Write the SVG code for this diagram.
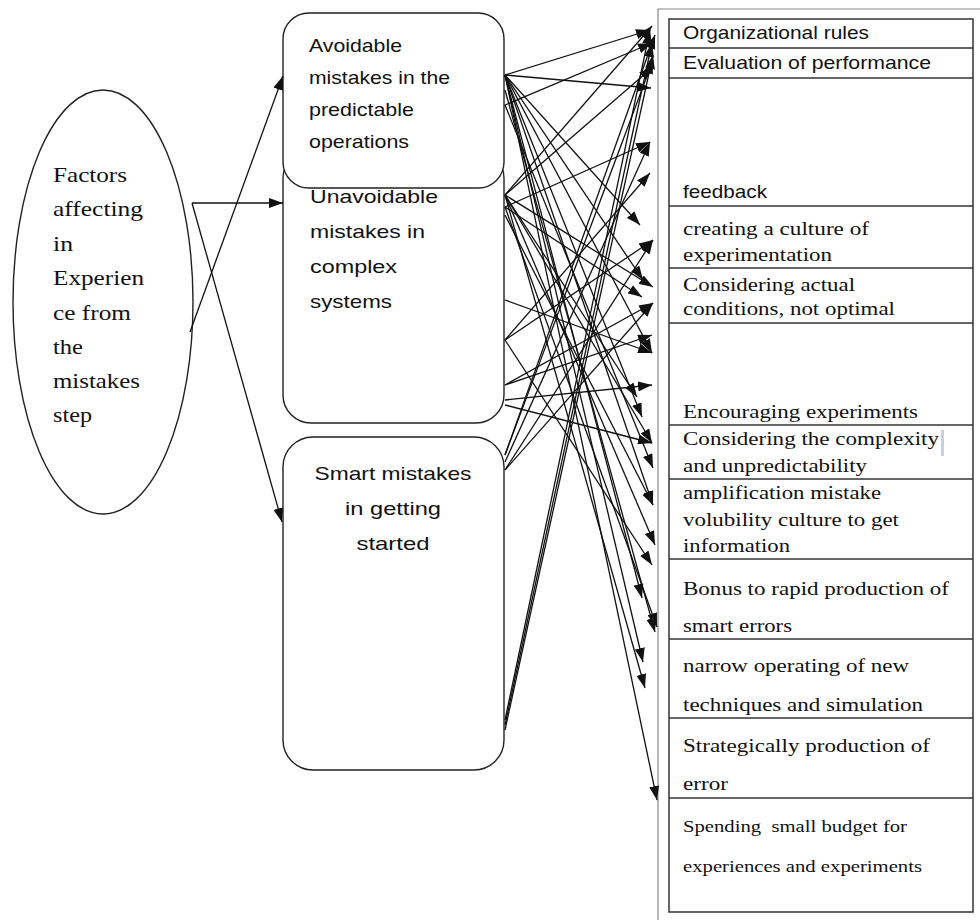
<svg xmlns="http://www.w3.org/2000/svg" width="980" height="920" viewBox="0 0 980 920">
<style>
  .bg{fill:#fff}
  .shape{fill:#fff;stroke:#222;stroke-width:1.4}
  .serif{font-family:"Liberation Serif","Times New Roman",serif;fill:#111}
  .sans{font-family:"Liberation Sans",Arial,sans-serif;fill:#111}
  .conn line,.conn path{stroke:#111;stroke-width:1.3;fill:none;marker-end:url(#ah)}
  .outer{fill:none;stroke:#888;stroke-width:1.2}
  .table{fill:none;stroke:#333;stroke-width:1.5}
  .row{stroke:#333;stroke-width:1.5}
</style>
<defs>
  <marker id="ah" markerWidth="14" markerHeight="10" refX="14" refY="5" orient="auto" markerUnits="userSpaceOnUse">
    <path d="M0,0 L14,5 L0,10 z" fill="#111"/>
  </marker>
</defs>
<rect class="bg" x="0" y="0" width="980" height="920"/>

<g id="factors">
  <ellipse class="shape" cx="103" cy="302" rx="90" ry="212"/>
  <g class="serif" font-size="22">
    <text x="53" y="182" textLength="74" lengthAdjust="spacingAndGlyphs">Factors</text>
    <text x="53" y="216" textLength="90" lengthAdjust="spacingAndGlyphs">affecting</text>
    <text x="53" y="251" textLength="20" lengthAdjust="spacingAndGlyphs">in</text>
    <text x="53" y="285" textLength="91" lengthAdjust="spacingAndGlyphs">Experien</text>
    <text x="53" y="320" textLength="78" lengthAdjust="spacingAndGlyphs">ce from</text>
    <text x="53" y="354" textLength="30" lengthAdjust="spacingAndGlyphs">the</text>
    <text x="53" y="388" textLength="87" lengthAdjust="spacingAndGlyphs">mistakes</text>
    <text x="53" y="422" textLength="39" lengthAdjust="spacingAndGlyphs">step</text>
  </g>
</g>

<g id="unavoidable">
  <rect class="shape" x="283" y="150" width="221" height="273" rx="28"/>
  <g class="sans" font-size="19">
    <text x="310" y="203" textLength="128" lengthAdjust="spacingAndGlyphs">Unavoidable</text>
    <text x="310" y="238" textLength="115" lengthAdjust="spacingAndGlyphs">mistakes in</text>
    <text x="310" y="273" textLength="87" lengthAdjust="spacingAndGlyphs">complex</text>
    <text x="310" y="308" textLength="82" lengthAdjust="spacingAndGlyphs">systems</text>
  </g>
</g>

<g id="avoidable">
  <rect class="shape" x="283" y="13" width="221" height="175" rx="26"/>
  <g class="sans" font-size="19">
    <text x="309" y="52" textLength="93" lengthAdjust="spacingAndGlyphs">Avoidable</text>
    <text x="309" y="84" textLength="141" lengthAdjust="spacingAndGlyphs">mistakes in the</text>
    <text x="309" y="116" textLength="105" lengthAdjust="spacingAndGlyphs">predictable</text>
    <text x="309" y="148" textLength="100" lengthAdjust="spacingAndGlyphs">operations</text>
  </g>
</g>

<g id="smart">
  <rect class="shape" x="283" y="437" width="221" height="333" rx="30"/>
  <g class="sans" font-size="19" text-anchor="middle">
    <text x="393" y="480" textLength="157" lengthAdjust="spacingAndGlyphs">Smart mistakes</text>
    <text x="393" y="515" textLength="96" lengthAdjust="spacingAndGlyphs">in getting</text>
    <text x="393" y="550" textLength="73" lengthAdjust="spacingAndGlyphs">started</text>
  </g>
</g>

<g id="outcomes">
  <path class="outer" d="M658,920 V9 H980"/>
  <rect class="table" x="669" y="19" width="304" height="893"/>
  <g class="row">
    <line x1="669" y1="48" x2="973" y2="48"/>
    <line x1="669" y1="78" x2="973" y2="78"/>
    <line x1="669" y1="206" x2="973" y2="206"/>
    <line x1="669" y1="268" x2="973" y2="268"/>
    <line x1="669" y1="323" x2="973" y2="323"/>
    <line x1="669" y1="425" x2="973" y2="425"/>
    <line x1="669" y1="479" x2="973" y2="479"/>
    <line x1="669" y1="559" x2="973" y2="559"/>
    <line x1="669" y1="639" x2="973" y2="639"/>
    <line x1="669" y1="718" x2="973" y2="718"/>
    <line x1="669" y1="798" x2="973" y2="798"/>
  </g>
  <g class="sans" font-size="19">
    <text x="683" y="39" textLength="186" lengthAdjust="spacingAndGlyphs">Organizational rules</text>
    <text x="683" y="69" textLength="248" lengthAdjust="spacingAndGlyphs">Evaluation of performance</text>
    <text x="683" y="198" textLength="84" lengthAdjust="spacingAndGlyphs">feedback</text>
  </g>
  <g class="serif" font-size="19">
    <text x="683" y="235" textLength="186" lengthAdjust="spacingAndGlyphs">creating a culture of</text>
    <text x="683" y="261" textLength="149" lengthAdjust="spacingAndGlyphs">experimentation</text>
    <text x="683" y="291" textLength="172" lengthAdjust="spacingAndGlyphs">Considering actual</text>
    <text x="683" y="315" textLength="212" lengthAdjust="spacingAndGlyphs">conditions, not optimal</text>
    <text x="683" y="418" textLength="235" lengthAdjust="spacingAndGlyphs">Encouraging experiments</text>
    <text x="683" y="445" textLength="256" lengthAdjust="spacingAndGlyphs">Considering the complexity</text>
    <text x="683" y="472" textLength="184" lengthAdjust="spacingAndGlyphs">and unpredictability</text>
    <text x="683" y="499" textLength="198" lengthAdjust="spacingAndGlyphs">amplification mistake</text>
    <text x="683" y="526" textLength="216" lengthAdjust="spacingAndGlyphs">volubility culture to get</text>
    <text x="683" y="552" textLength="107" lengthAdjust="spacingAndGlyphs">information</text>
    <text x="683" y="595" textLength="266" lengthAdjust="spacingAndGlyphs">Bonus to rapid production of</text>
    <text x="683" y="632" textLength="109" lengthAdjust="spacingAndGlyphs">smart errors</text>
    <text x="683" y="672" textLength="226" lengthAdjust="spacingAndGlyphs">narrow operating of new</text>
    <text x="683" y="711" textLength="240" lengthAdjust="spacingAndGlyphs">techniques and simulation</text>
    <text x="683" y="752" textLength="247" lengthAdjust="spacingAndGlyphs">Strategically production of</text>
    <text x="683" y="790" textLength="45" lengthAdjust="spacingAndGlyphs">error</text>
  </g>
  <g class="serif" font-size="16">
    <text x="683" y="832" textLength="224" lengthAdjust="spacingAndGlyphs" xml:space="preserve">Spending  small budget for</text>
    <text x="683" y="872" textLength="239" lengthAdjust="spacingAndGlyphs">experiences and experiments</text>
  </g>
  <rect x="941" y="430" width="3" height="26" fill="#c5d0e6"/>
</g>

<g id="connectors" class="conn">
  <line x1="192" y1="203" x2="283" y2="203"/>
  <line x1="192" y1="203" x2="282" y2="522"/>
  <line x1="190" y1="332" x2="283" y2="76"/>

  <line x1="505" y1="75" x2="650" y2="30"/>
  <line x1="505" y1="75" x2="651" y2="88"/>
  <line x1="505" y1="75" x2="640" y2="225"/>
  <line x1="505" y1="75" x2="643" y2="280"/>
  <line x1="505" y1="75" x2="652" y2="353"/>
  <line x1="505" y1="75" x2="642" y2="417"/>
  <line x1="505" y1="75" x2="653" y2="505"/>
  <line x1="505" y1="75" x2="642" y2="598"/>
  <line x1="505" y1="75" x2="643" y2="662"/>
  <line x1="505" y1="75" x2="657" y2="800"/>
  <line x1="505" y1="105" x2="652" y2="43"/>
  <line x1="505" y1="105" x2="653" y2="468"/>
  <line x1="505" y1="90" x2="655" y2="632"/>

  <line x1="505" y1="195" x2="652" y2="26"/>
  <line x1="505" y1="195" x2="653" y2="67"/>
  <line x1="505" y1="195" x2="653" y2="287"/>
  <line x1="505" y1="195" x2="652" y2="443"/>
  <line x1="505" y1="195" x2="655" y2="545"/>
  <line x1="505" y1="195" x2="645" y2="688"/>
  <line x1="505" y1="195" x2="637" y2="397"/>
  <line x1="505" y1="207" x2="650" y2="142"/>
  <line x1="505" y1="207" x2="642" y2="297"/>
  <line x1="505" y1="207" x2="657" y2="627"/>
  <line x1="505" y1="215" x2="653" y2="505"/>
  <line x1="505" y1="300" x2="652" y2="353"/>
  <line x1="505" y1="340" x2="650" y2="173"/>
  <line x1="505" y1="340" x2="653" y2="240"/>
  <line x1="505" y1="340" x2="652" y2="565"/>
  <line x1="505" y1="385" x2="653" y2="303"/>
  <line x1="505" y1="385" x2="652" y2="335"/>
  <line x1="505" y1="400" x2="652" y2="385"/>
  <line x1="505" y1="405" x2="652" y2="443"/>

  <line x1="505" y1="455" x2="655" y2="35"/>
  <line x1="505" y1="455" x2="653" y2="60"/>
  <line x1="505" y1="462" x2="650" y2="142"/>
  <line x1="505" y1="470" x2="653" y2="240"/>
  <line x1="505" y1="470" x2="653" y2="303"/>
  <line x1="505" y1="720" x2="650" y2="30"/>
  <line x1="505" y1="725" x2="652" y2="43"/>
  <line x1="505" y1="730" x2="653" y2="55"/>
</g>
</svg>
